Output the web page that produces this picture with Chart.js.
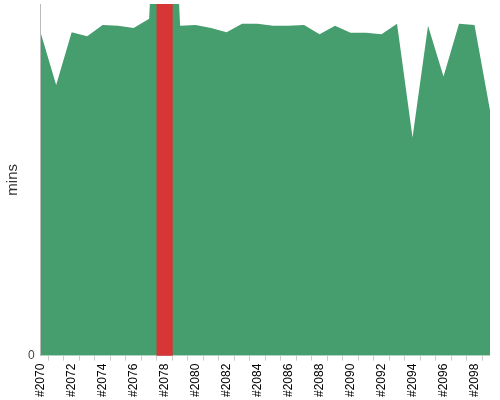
<!DOCTYPE html>
<html>
<head>
<meta charset="utf-8">
<script src="https://cdn.jsdelivr.net/npm/chart.js@4/dist/chart.umd.min.js"></script>
<style>
  html, body { margin: 0; padding: 0; background: #fff; }
  #wrap { width: 500px; height: 400px; }
</style>
</head>
<body>
<div id="wrap"><canvas id="chart"></canvas></div>
<script>
// データ
const builds = [];
for (let n = 2070; n <= 2099; n++) builds.push("#" + n);

const minsValues = [
  45.9, 38.5, 46.0, 45.4, 47.0, 46.9, 46.6, 47.9, 93.3, 46.9,
  47.0, 46.6, 46.0, 47.2, 47.2, 46.9, 46.9, 47.0, 45.7, 46.9,
  45.9, 45.9, 45.7, 47.2, 31.0, 46.9, 39.7, 47.2, 47.0, 34.9
];

// 強調するビルド（赤いバー）
const highlightBuild = "#2078";
const highlightValues = builds.map(b => b === highlightBuild ? 200 : null);

const yMax = 50;

const ctx = document.getElementById("chart").getContext("2d");
const chart = new Chart(ctx, {
  data: {
    labels: builds,
    datasets: [{
      type: "bar",
      label: "highlight",
      data: highlightValues,
      backgroundColor: "rgb(214, 54, 54)",
      barPercentage: 1,
      categoryPercentage: 1,
      order: 0
    }, {
      type: "line",
      label: "mins",
      data: minsValues,
      backgroundColor: "rgb(70, 157, 110)",
      borderWidth: 0,
      fill: "origin",
      pointRadius: 0,
      tension: 0,
      order: 1
    }]
  },
  options: {
    responsive: true,
    maintainAspectRatio: false,
    animation: false,
    layout: { padding: { top: 4, right: 10, left: 0, bottom: 0 } },
    plugins: {
      legend: { display: false },
      tooltip: { enabled: false }
    },
    scales: {
      x: {
        offset: false,
        grid: { display: true, drawOnChartArea: false, tickLength: 5, color: "#ccc" },
        border: { display: false },
        afterFit: axis => { axis.paddingRight = 0; axis.paddingLeft = 0; },
        ticks: {
          autoSkip: false,
          minRotation: 90,
          maxRotation: 90,
          color: "#000",
          font: { family: "Liberation Sans", size: 12 },
          callback: function (val, i) { return i % 2 === 0 ? this.getLabelForValue(val) : ""; }
        }
      },
      y: {
        min: 0,
        max: yMax,
        grid: { display: false, drawTicks: false, tickLength: 0 },
        border: { display: true, color: "#bbb" },
        afterBuildTicks: axis => { axis.ticks = [{ value: 0 }]; },
        afterFit: axis => { axis.paddingTop = 0; },
        ticks: {
          color: "#444",
          font: { family: "Liberation Sans", size: 12 },
          padding: 6
        },
        title: {
          display: true,
          text: "mins",
          color: "#333",
          padding: { top: 4, bottom: 0 },
          font: { family: "Liberation Sans", size: 15 }
        }
      }
    }
  }
});
</script>
</body>
</html>
